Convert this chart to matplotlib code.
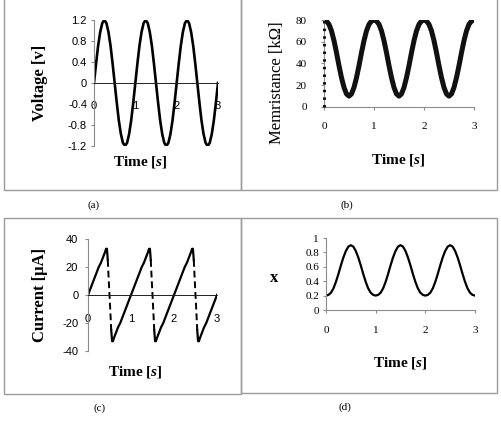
import numpy as np
import matplotlib
matplotlib.use("Agg")
import matplotlib.pyplot as plt
from matplotlib.patches import Rectangle

plt.rcParams['mathtext.fontset'] = 'custom'
plt.rcParams['mathtext.rm'] = 'Liberation Serif:bold'
plt.rcParams['mathtext.bf'] = 'Liberation Serif:bold'
plt.rcParams['mathtext.it'] = 'Liberation Serif:bold:italic'
plt.rcParams['axes.unicode_minus'] = False

# ---------------- data ----------------
time = np.linspace(0, 3, 61)  # 0.05 s steps

voltage = [0, 0.37, 0.71, 0.97, 1.14, 1.2, 1.14, 0.97, 0.71, 0.37,
           0, -0.37, -0.71, -0.97, -1.14, -1.2, -1.14, -0.97, -0.71, -0.37,
           0, 0.37, 0.71, 0.97, 1.14, 1.2, 1.14, 0.97, 0.71, 0.37,
           0, -0.37, -0.71, -0.97, -1.14, -1.2, -1.14, -0.97, -0.71, -0.37,
           0, 0.37, 0.71, 0.97, 1.14, 1.2, 1.14, 0.97, 0.71, 0.37,
           0, -0.37, -0.71, -0.97, -1.14, -1.2, -1.14, -0.97, -0.71, -0.37,
           0]

memristance = [80, 79, 76, 70, 61, 50, 38, 27, 18, 12,
               10, 12, 18, 27, 38, 50, 61, 70, 76, 79,
               80, 79, 76, 70, 61, 50, 38, 27, 18, 12,
               10, 12, 18, 27, 38, 50, 61, 70, 76, 79,
               80, 79, 76, 70, 61, 50, 38, 27, 18, 12,
               10, 12, 18, 27, 38, 50, 61, 70, 76, 79,
               80]
mem_start_t = [0, 0]
mem_start_v = [0, 80]

x_state = [0.20, 0.21, 0.24, 0.30, 0.39, 0.50, 0.62, 0.73, 0.82, 0.88,
           0.90, 0.88, 0.82, 0.73, 0.62, 0.50, 0.39, 0.30, 0.24, 0.21,
           0.20, 0.21, 0.24, 0.30, 0.39, 0.50, 0.62, 0.73, 0.82, 0.88,
           0.90, 0.88, 0.82, 0.73, 0.62, 0.50, 0.39, 0.30, 0.24, 0.21,
           0.20, 0.21, 0.24, 0.30, 0.39, 0.50, 0.62, 0.73, 0.82, 0.88,
           0.90, 0.88, 0.82, 0.73, 0.62, 0.50, 0.39, 0.30, 0.24, 0.21,
           0.20]

current_t = [0, 0.05, 0.1, 0.15, 0.2, 0.25, 0.3, 0.35, 0.4, 0.42, 0.44, 0.46, 0.48,
             0.5, 0.52, 0.54, 0.56, 0.58, 0.6, 0.65, 0.7, 0.75, 0.8, 0.85, 0.9, 0.95,
             1.0, 1.05, 1.1, 1.15, 1.2, 1.25, 1.3, 1.35, 1.4, 1.42, 1.44, 1.46, 1.48,
             1.5, 1.52, 1.54, 1.56, 1.58, 1.6, 1.65, 1.7, 1.75, 1.8, 1.85, 1.9, 1.95,
             2.0, 2.05, 2.1, 2.15, 2.2, 2.25, 2.3, 2.35, 2.4, 2.42, 2.44, 2.46, 2.48,
             2.5, 2.52, 2.54, 2.56, 2.58, 2.6, 2.65, 2.7, 2.75, 2.8, 2.85, 2.9, 2.95,
             3.0]
current = [0, 4, 8, 12, 16, 20, 23, 27, 31, 33, 33, 25, 12,
           0, -12, -25, -33, -33, -31, -27, -23, -20, -16, -12, -8, -4,
           0, 4, 8, 12, 16, 20, 23, 27, 31, 33, 33, 25, 12,
           0, -12, -25, -33, -33, -31, -27, -23, -20, -16, -12, -8, -4,
           0, 4, 8, 12, 16, 20, 23, 27, 31, 33, 33, 25, 12,
           0, -12, -25, -33, -33, -31, -27, -23, -20, -16, -12, -8, -4,
           0]

xticks = [0, 1, 2, 3]
v_ticks = [-1.2, -0.8, -0.4, 0, 0.4, 0.8, 1.2]
m_ticks = [0, 20, 40, 60, 80]
c_ticks = [-40, -20, 0, 20, 40]
x_ticks_d = [0, 0.2, 0.4, 0.6, 0.8, 1]

# ---------------- layout ----------------
W, H = 502, 422
fig = plt.figure(figsize=(W / 100, H / 100), dpi=100)
fig.patch.set_facecolor('white')


def fx(x):
    return x / W


def fy(y):
    return 1 - y / H


def axes_px(x0, x1, ytop, ybot):
    return fig.add_axes([fx(x0), fy(ybot), (x1 - x0) / W, (ybot - ytop) / H])


GRAY = '#8c8c8c'
SERIF = 'Liberation Serif'
SANS = 'Liberation Sans'

# panel frames
for (x0, y0, x1, y1) in [(4, -3, 241, 190), (241, -3, 497, 190),
                         (4, 218, 241, 394), (241, 218, 497, 393)]:
    fig.add_artist(Rectangle((fx(x0), fy(y1)), (x1 - x0) / W, (y1 - y0) / H,
                             transform=fig.transFigure, fill=False,
                             edgecolor='#9a9a9a', lw=1.0))


def style(ax, tickfont, ypad, xpad, xlen, zero_axis):
    for s in ['top', 'right']:
        ax.spines[s].set_visible(False)
    ax.spines['left'].set_color(GRAY)
    ax.spines['left'].set_linewidth(0.8)
    if zero_axis:
        ax.spines['bottom'].set_position(('data', 0))
        ax.spines['bottom'].set_color('#202020')
        ax.spines['bottom'].set_linewidth(0.7)
    else:
        ax.spines['bottom'].set_color(GRAY)
        ax.spines['bottom'].set_linewidth(0.8)
    ax.tick_params(axis='y', direction='out', length=2.5, width=0.8, color=GRAY, pad=ypad)
    ax.tick_params(axis='x', direction='out', length=xlen, width=0.8, color=GRAY, pad=xpad)
    for lab in ax.get_xticklabels() + ax.get_yticklabels():
        lab.set_fontfamily(tickfont)
        lab.set_fontsize(8)
    ax.patch.set_alpha(0)


time_label = r'$\mathbf{Time\ [}\mathit{s}\mathbf{]}$'

# (a) Voltage
axa = axes_px(94, 218, 20, 146)
axa.plot(time, voltage, color='black', lw=1.9, solid_joinstyle='round')
axa.set_xlim(0, 3)
axa.set_ylim(-1.2, 1.2)
axa.set_xticks(xticks)
axa.set_yticks(v_ticks)
axa.set_yticklabels(['-1.2', '-0.8', '-0.4', '0', '0.4', '0.8', '1.2'])
style(axa, SANS, 2.5, 13, 0, True)
fig.text(fx(40), fy(83), 'Voltage [v]', rotation=90, ha='center', va='center',
         family=SERIF, fontsize=12, fontweight='bold')
fig.text(fx(140), fy(162), time_label, ha='center', va='center', fontsize=11)
fig.text(fx(94), fy(205), '(a)', ha='center', va='center', family=SERIF, fontsize=8)

# (b) Memristance
axb = axes_px(324, 474, 20, 107)
axb.plot(time, memristance, color='#111111', lw=3.6, solid_joinstyle='round')
axb.plot(mem_start_t, mem_start_v, color='#111111', lw=2.2,
         linestyle=(0, (0.8, 1.7)), clip_on=False, zorder=3)
axb.set_xlim(0, 3)
axb.set_ylim(0, 80)
axb.set_xticks(xticks)
axb.set_yticks(m_ticks)
style(axb, SERIF, 10, 8.5, 2.5, False)
fig.text(fx(277), fy(83), 'Memristance [kΩ]', rotation=90, ha='center', va='center',
         family=SERIF, fontsize=12)
fig.text(fx(398), fy(160), time_label, ha='center', va='center', fontsize=11)
fig.text(fx(347), fy(205), '(b)', ha='center', va='center', family=SERIF, fontsize=8)

# (c) Current
axc = axes_px(88, 217, 239, 351)
ct = np.array(current_t)
ci = np.array(current, dtype=float)
slope = np.abs(np.diff(ci) / np.diff(ct))
steep = slope > 500
solid_pts = np.zeros(len(ci), bool)
dash_pts = np.zeros(len(ci), bool)
solid_pts[:-1] |= ~steep
solid_pts[1:] |= ~steep
dash_pts[:-1] |= steep
dash_pts[1:] |= steep
axc.plot(ct, np.where(solid_pts, ci, np.nan), color='black', lw=1.6)
axc.plot(ct, np.where(dash_pts, ci, np.nan), color='black', lw=1.4,
         linestyle=(0, (3.5, 2)))
axc.set_xlim(0, 3)
axc.set_ylim(-40, 40)
axc.set_xticks(xticks)
axc.set_yticks(c_ticks)
style(axc, SANS, 4.5, 13.5, 0, True)
fig.text(fx(40), fy(295), 'Current [μA]', rotation=90, ha='center', va='center',
         family=SERIF, fontsize=12, fontweight='bold')
fig.text(fx(135), fy(372), time_label, ha='center', va='center', fontsize=11)
fig.text(fx(100), fy(408), '(c)', ha='center', va='center', family=SERIF, fontsize=8)

# (d) state variable x
axd = axes_px(326, 475, 238, 310)
axd.plot(time, x_state, color='black', lw=1.6, solid_joinstyle='round')
axd.set_xlim(0, 3)
axd.set_ylim(0, 1)
axd.set_xticks(xticks)
axd.set_yticks(x_ticks_d)
axd.set_yticklabels(['0', '0.2', '0.4', '0.6', '0.8', '1'])
style(axd, SERIF, 2.5, 9, 2.5, False)
fig.text(fx(274), fy(278), 'x', ha='center', va='center',
         family=SERIF, fontsize=12, fontweight='bold')
fig.text(fx(400), fy(363), time_label, ha='center', va='center', fontsize=11)
fig.text(fx(345), fy(407), '(d)', ha='center', va='center', family=SERIF, fontsize=8)

fig.savefig('out.png', dpi=100, facecolor='white')
